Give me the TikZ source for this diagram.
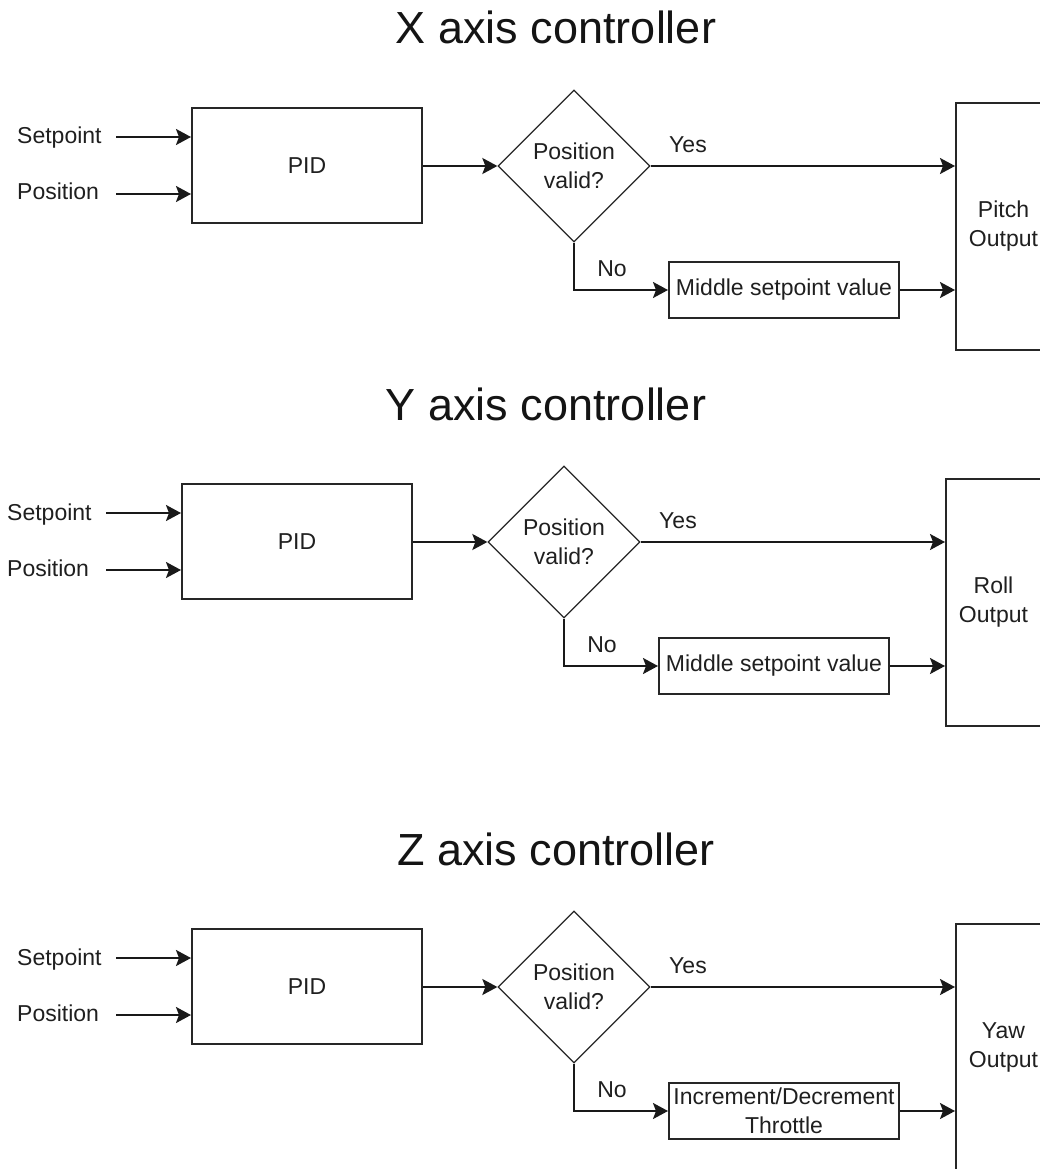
\documentclass[tikz,border=0pt]{standalone}
\usepackage{fontspec}
\setmainfont{Liberation Sans}
\usetikzlibrary{shapes.geometric,arrows.meta}

\tikzset{
  lbl/.style={font=\fontsize{23}{29}\selectfont, text=black!88, inner sep=0pt},
  ttl/.style={font=\fontsize{45}{54}\selectfont, text=black!92, inner sep=0pt, anchor=base},
  blk/.style={draw=black!85, line width=2pt, rectangle, lbl, align=center},
  dec/.style={draw=black!85, line width=1.3pt, diamond, aspect=1,
    minimum width=152pt, minimum height=152pt, lbl, align=center},
  arr/.style={draw=black!90, line width=2pt,
    -{Stealth[length=15pt,width=16pt,inset=3pt]}},
}

% One controller row: #1 name prefix, #2 heading, #3 output block text,
% #4 text of the block taken when the position is not valid
\newcommand\axisctl[4]{%
  \node[ttl] (#1title) at (556,44) {#2};
  \node[lbl, anchor=base west] (#1sp) at (17,144) {Setpoint};
  \node[lbl, anchor=base west] (#1pos) at (17,200) {Position};
  \node[blk, minimum width=230pt, minimum height=115pt] (#1pid) at (307,165.5) {PID};
  \node[dec] (#1dia) at (574,166) {Position\\valid?};
  \node[blk, minimum width=95pt, minimum height=247pt] (#1out) at (1003.5,226.5) {#3};
  \node[blk, minimum width=230pt, minimum height=56pt] (#1alt) at (784,290) {#4};
  \node[lbl] (#1yes) at (688,145) {Yes};
  \node[lbl] (#1no) at (612,269) {No};
  \coordinate (#1spin) at (116,137);
  \coordinate (#1posin) at (116,194);
  \draw[arr] (#1spin) -- (#1spin -| #1pid.west);
  \draw[arr] (#1posin) -- (#1posin -| #1pid.west);
  \draw[arr] (#1pid.east |- #1dia.west) -- (#1dia.west);
  \draw[arr] (#1dia.east) -- (#1dia.east -| #1out.west);
  \draw[arr] (#1dia.south) |- (#1alt.west);
  \draw[arr] (#1alt.east) -- (#1alt.east -| #1out.west);
}

\begin{document}
\begin{tikzpicture}[x=1pt, y=-1pt]
  \useasboundingbox (0,0) rectangle (1040,1169);
  \clip (0,0) rectangle (1040,1169);

  \axisctl{x}{X axis controller}{Pitch\\Output}{Middle setpoint value}

  \begin{scope}[shift={(-10,376)}]
    \axisctl{y}{Y axis controller}{Roll\\Output}{Middle setpoint value}
  \end{scope}

  \begin{scope}[shift={(0,821)}]
    \axisctl{z}{Z axis controller}{Yaw\\Output}{Increment/Decrement\\Throttle}
  \end{scope}
\end{tikzpicture}
\end{document}
